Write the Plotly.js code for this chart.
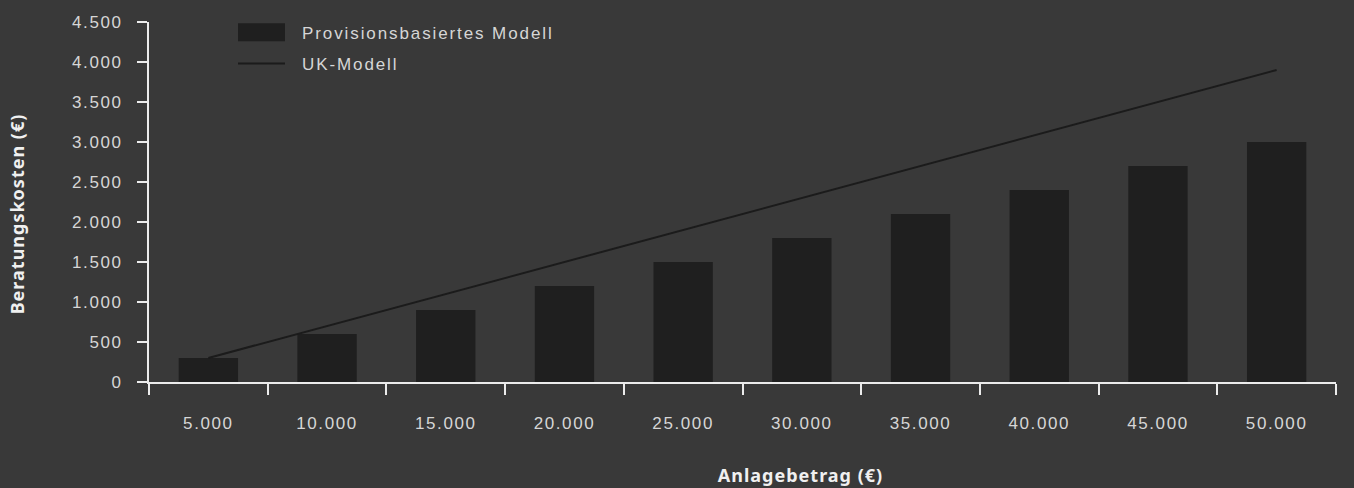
<!DOCTYPE html>
<html>
<head>
<meta charset="utf-8">
<script src="https://cdn.plot.ly/plotly-3.0.1.min.js"></script>
<style>
  html, body { margin: 0; padding: 0; background: #393939; }
  #chart { width: 1354px; height: 488px; }
  .xtick text, .ytick text { letter-spacing: 1.6px; }
  .legendtext { letter-spacing: 1.9px; }
  .g-xtitle text, .g-ytitle text { letter-spacing: 1px; }
</style>
</head>
<body>
<div id="chart"></div>
<script>
// Data
const categories = ["5000", "10000", "15000", "20000", "25000", "30000", "35000", "40000", "45000", "50000"];
const tickLabels = ["5.000", "10.000", "15.000", "20.000", "25.000", "30.000", "35.000", "40.000", "45.000", "50.000"];
const provisionValues = [300, 600, 900, 1200, 1500, 1800, 2100, 2400, 2700, 3000];
const ukValues = [300, 700, 1100, 1500, 1900, 2300, 2700, 3100, 3500, 3900];
const seriesNames = ["Provisionsbasiertes Modell", "UK-Modell"];

const textColor = "#d6d6d6";
const axisColor = "#ececec";
const bg = "#393939";
const barColor = "#1f1f1f";
const lineColor = "#1b1b1b";

const traces = [
  {
    type: "bar",
    name: seriesNames[0],
    x: categories,
    y: provisionValues,
    width: 0.5,
    marker: { color: barColor, line: { width: 0 } },
    legendgroup: "a",
    hoverinfo: "x+y"
  },
  {
    type: "scatter",
    mode: "lines",
    name: seriesNames[1],
    x: categories,
    y: ukValues,
    line: { color: lineColor, width: 2 },
    legendgroup: "b",
    hoverinfo: "x+y"
  }
];

const layout = {
  width: 1354,
  height: 488,
  margin: { l: 149, r: 18, t: 22, b: 106 },
  paper_bgcolor: bg,
  plot_bgcolor: bg,
  separators: ",.",
  font: { family: "Liberation Sans, Arial, sans-serif", size: 17, color: textColor },
  showlegend: true,
  legend: {
    x: 0.063, xanchor: "left",
    y: 1.02, yanchor: "top",
    bgcolor: "rgba(0,0,0,0)",
    font: { family: "Liberation Sans, Arial, sans-serif", size: 17, color: textColor },
    traceorder: "grouped",
    tracegroupgap: 6,
    itemwidth: 56
  },
  xaxis: {
    type: "category",
    tickmode: "array",
    tickvals: categories,
    ticktext: tickLabels,
    tickson: "boundaries",
    ticks: "outside",
    ticklen: 11,
    tickwidth: 2,
    tickcolor: axisColor,
    ticklabelstandoff: 25,
    showline: true,
    linecolor: axisColor,
    linewidth: 2,
    showgrid: false,
    zeroline: false,
    range: [-0.5, 9.5],
    tickfont: { family: "Liberation Sans, Arial, sans-serif", size: 17, color: textColor },
    title: {
      text: "Anlagebetrag (€)",
      font: { family: "Noto Sans, Open Sans, sans-serif", size: 18, color: "#f0f0f0", weight: "bold" },
      standoff: 37
    }
  },
  yaxis: {
    range: [0, 4500],
    dtick: 500,
    tick0: 0,
    tickformat: ",d",
    ticks: "outside",
    ticklen: 10,
    tickwidth: 2,
    tickcolor: axisColor,
    ticklabelstandoff: 11,
    showline: true,
    linecolor: axisColor,
    linewidth: 2,
    showgrid: false,
    zeroline: false,
    tickfont: { family: "Liberation Sans, Arial, sans-serif", size: 17, color: textColor },
    title: {
      text: "Beratungskosten (€)",
      font: { family: "Noto Sans, Open Sans, sans-serif", size: 18, color: "#f0f0f0", weight: "bold" },
      standoff: 43
    }
  }
};

const gd = document.getElementById("chart");
Plotly.newPlot(gd, traces, layout, { displayModeBar: false, staticPlot: true }).then(function () {
  // Legend styling: wide swatch box and long line like the reference
  const leg = gd.querySelector("g.legend");
  if (!leg) return;
  const items = leg.querySelectorAll("g.traces");
  const firstText = items[0] && items[0].querySelector("text.legendtext");
  if (firstText) {
    const left = firstText.getBoundingClientRect().left;
    const shift = 302 - left;
    const tr = leg.getAttribute("transform") || "";
    const m = tr.match(/translate\(([-\d.]+)[ ,]+([-\d.]+)\)/);
    if (m) {
      leg.setAttribute("transform", "translate(" + (parseFloat(m[1]) + shift) + "," + parseFloat(m[2]) + ")");
    }
  }
  items.forEach(function (item, i) {
    const txt = item.querySelector("text.legendtext");
    const tx = txt ? parseFloat(txt.getAttribute("x")) : 60;
    const start = tx - 64;
    const pts = item.querySelector("g.legendpoints");
    if (!pts) return;
    if (i === 0) {
      const p = pts.querySelector("path");
      if (p) {
        p.removeAttribute("transform");
        p.setAttribute("d", "M" + start + ",-9h47v18h-47Z");
        p.style.fill = barColor;
        p.style.stroke = "none";
      }
    } else {
      const p = item.querySelector("path.js-line") || pts.querySelector("path");
      if (p) {
        p.removeAttribute("transform");
        p.setAttribute("d", "M" + start + ",0h47");
      }
    }
  });
  // title placement nudges to match the reference
  const yt = gd.querySelector("g.g-ytitle");
  if (yt) yt.setAttribute("transform", "translate(0,12)");
  const xt = gd.querySelector("g.g-xtitle");
  if (xt) xt.setAttribute("transform", "translate(58,0)");
});
</script>
</body>
</html>
